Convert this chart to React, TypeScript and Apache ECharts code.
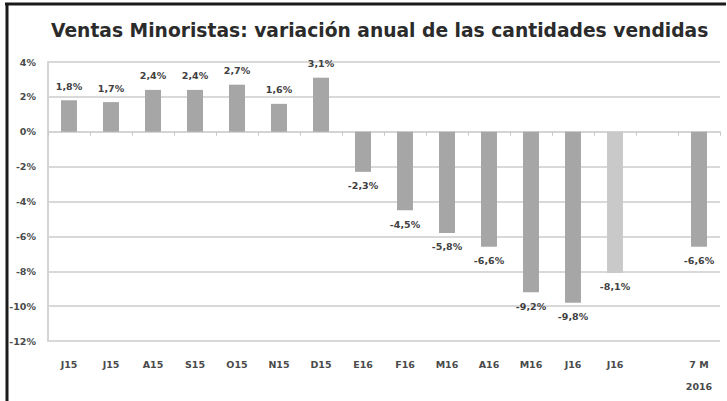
import React, { useEffect, useRef } from "react";
import * as echarts from "echarts";

const categories = ["J15", "J15", "A15", "S15", "O15", "N15", "D15", "E16", "F16", "M16", "A16", "M16", "J16", "J16", "", "7 M\n2016"];
const values: (number | null)[] = [1.8, 1.7, 2.4, 2.4, 2.7, 1.6, 3.1, -2.3, -4.5, -5.8, -6.6, -9.2, -9.8, -8.1, null, -6.6];
const highlightIndex = 13;
const yTicks = { min: -12, max: 4, interval: 2 };
const titleText = "Ventas Minoristas: variación anual de las cantidades vendidas";

const fmt = (v: number) => v.toFixed(1).replace(".", ",") + "%";

export default function App() {
  const ref = useRef<HTMLDivElement>(null);
  useEffect(() => {
    document.body.style.margin = "0";
    const chart = echarts.init(ref.current!, null, { renderer: "svg" });
    const font = "DejaVu Sans";
    chart.setOption({
      animation: false,
      backgroundColor: "#ffffff",
      title: {
        text: titleText,
        left: 46,
        top: 16,
        textStyle: { fontFamily: font, fontSize: 18.7, fontWeight: "bold", color: "#2b2b2b" },
      },
      grid: { left: 48, right: 7, top: 62, bottom: 60, outerBoundsMode: "none", containLabel: false },
      xAxis: [
        {
          type: "category",
          data: categories,
          position: "bottom",
          axisLine: { show: false, onZero: false },
          axisTick: { show: false },
          axisLabel: {
            interval: 0,
            margin: 12,
            fontFamily: font,
            fontSize: 9.5,
            fontWeight: "bold",
            color: "#4a4a4a",
            lineHeight: 22,
            verticalAlign: "top",
          },
        },
        {
          type: "category",
          data: categories,
          position: "bottom",
          axisLine: { show: true, onZero: true, lineStyle: { color: "#d4d4d4", width: 2 } },
          axisTick: { show: true, length: 4, lineStyle: { color: "#c8c8c8" } },
          axisLabel: { show: false },
        },
      ],
      yAxis: {
        type: "value",
        min: yTicks.min,
        max: yTicks.max,
        interval: yTicks.interval,
        axisLine: { show: true, lineStyle: { color: "#d4d4d4", width: 2 } },
        axisTick: { show: false },
        splitLine: { lineStyle: { color: "#d9d9d9", width: 2 } },
        axisLabel: {
          margin: 12,
          fontFamily: font,
          fontSize: 9.5,
          fontWeight: "bold",
          color: "#4a4a4a",
          formatter: (v: number) => v + "%",
        },
      },
      series: [
        {
          type: "bar",
          xAxisIndex: 0,
          barWidth: "38%",
          data: values.map((v, i) =>
            v === null
              ? null
              : {
                  value: v,
                  itemStyle: { color: i === highlightIndex ? "#c9c9c9" : "#a6a6a6" },
                  label: { position: v >= 0 ? "top" : "bottom" },
                }
          ),
          label: {
            show: true,
            distance: 9,
            fontFamily: font,
            fontSize: 9.5,
            fontWeight: "bold",
            color: "#404040",
            formatter: (p: any) => fmt(p.value),
          },
        },
      ],
      graphic: [
        { type: "line", shape: { x1: 5, y1: 4, x2: 726, y2: 4 }, style: { stroke: "#1a1a1a", lineWidth: 3 } },
        { type: "line", shape: { x1: 7, y1: 3, x2: 7, y2: 401 }, style: { stroke: "#1a1a1a", lineWidth: 3 } },
      ],
    });
    return () => chart.dispose();
  }, []);
  return <div ref={ref} style={{ width: 727, height: 401, position: "absolute", left: 0, top: 0 }} />;
}
